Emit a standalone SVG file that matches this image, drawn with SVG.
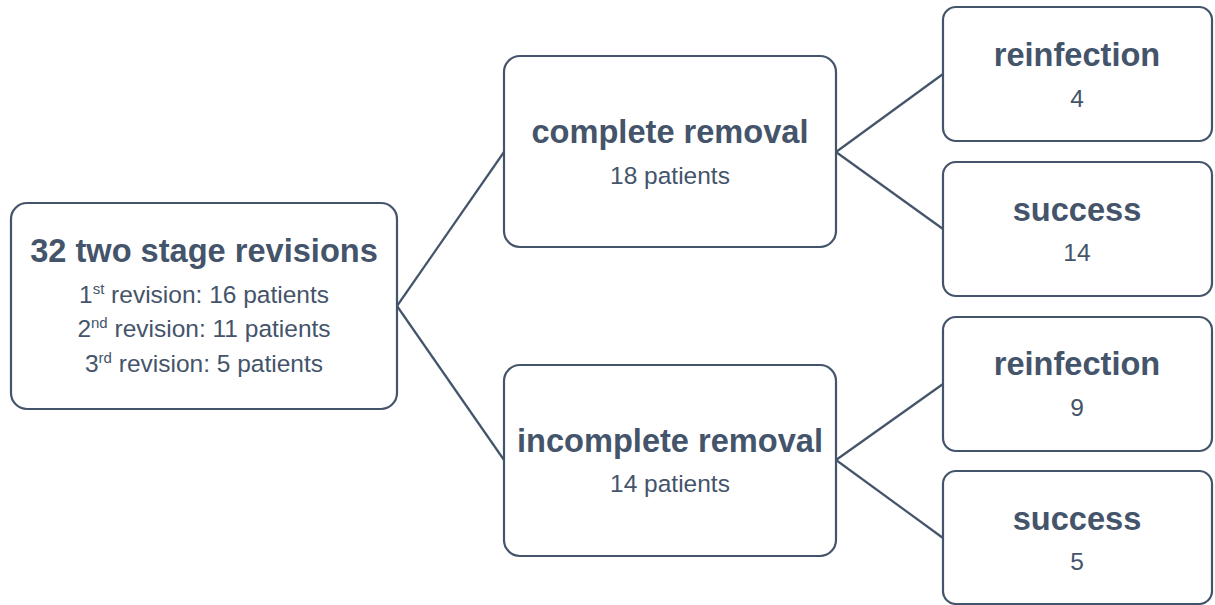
<svg xmlns="http://www.w3.org/2000/svg" width="1215" height="605" viewBox="0 0 1215 605">
<style>
.box{fill:#fff;stroke:#44546a;stroke-width:2.2}
.t{font-family:"Liberation Sans",Arial,sans-serif;font-weight:bold;font-size:32.6px;fill:#44546a;text-anchor:middle}
.s{font-family:"Liberation Sans",Arial,sans-serif;font-size:24.5px;fill:#44546a;text-anchor:middle}
.sup{font-size:15px}
.c{stroke:#44546a;stroke-width:2.2;fill:none}
</style>
<rect width="1215" height="605" fill="#fff"/>
<g id="connectors">
<line class="c" x1="397" y1="306" x2="504" y2="152"/>
<line class="c" x1="397" y1="306" x2="504" y2="460"/>
<line class="c" x1="836" y1="152" x2="943" y2="74"/>
<line class="c" x1="836" y1="152" x2="943" y2="229"/>
<line class="c" x1="836" y1="460" x2="943" y2="384"/>
<line class="c" x1="836" y1="460" x2="943" y2="538"/>
</g>
<g id="root">
<rect class="box" x="11" y="203" width="386" height="206" rx="16"/>
<text class="t" x="204" y="262">32 two stage revisions</text>
<text class="s" x="204" y="303">1<tspan class="sup" dy="-9">st</tspan><tspan dy="9"> revision: 16 patients</tspan></text>
<text class="s" x="204" y="337">2<tspan class="sup" dy="-9">nd</tspan><tspan dy="9"> revision: 11 patients</tspan></text>
<text class="s" x="204" y="372">3<tspan class="sup" dy="-9">rd</tspan><tspan dy="9"> revision: 5 patients</tspan></text>
</g>
<g id="complete">
<rect class="box" x="504" y="56" width="332" height="191" rx="16"/>
<text class="t" x="670" y="143">complete removal</text>
<text class="s" x="670" y="184">18 patients</text>
</g>
<g id="incomplete">
<rect class="box" x="504" y="365" width="332" height="191" rx="16"/>
<text class="t" x="670" y="452">incomplete removal</text>
<text class="s" x="670" y="492">14 patients</text>
</g>
<g id="reinfection1">
<rect class="box" x="943" y="7" width="269" height="134" rx="13"/>
<text class="t" x="1077" y="66">reinfection</text>
<text class="s" x="1077" y="107">4</text>
</g>
<g id="success1">
<rect class="box" x="943" y="162" width="269" height="134" rx="13"/>
<text class="t" x="1077" y="221">success</text>
<text class="s" x="1077" y="261">14</text>
</g>
<g id="reinfection2">
<rect class="box" x="943" y="317" width="269" height="134" rx="13"/>
<text class="t" x="1077" y="375">reinfection</text>
<text class="s" x="1077" y="416">9</text>
</g>
<g id="success2">
<rect class="box" x="943" y="471" width="269" height="133" rx="13"/>
<text class="t" x="1077" y="530">success</text>
<text class="s" x="1077" y="570">5</text>
</g>
</svg>
